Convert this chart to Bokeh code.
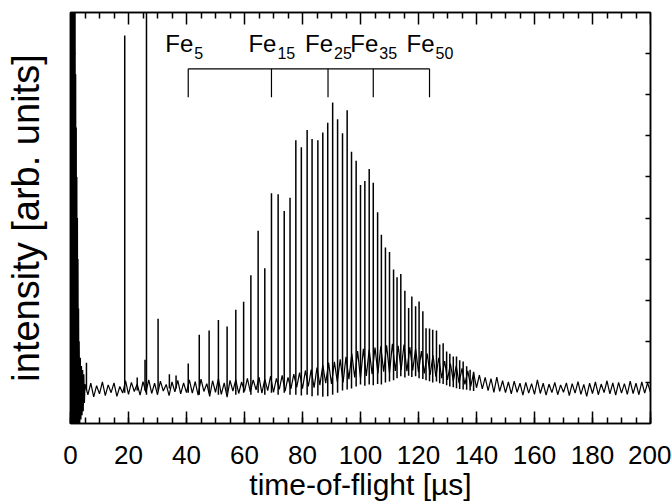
import math
from bokeh.plotting import figure
from bokeh.models import LinearAxis, FixedTicker, SingleIntervalTicker
from bokeh.core.properties import value
from bokeh.embed import file_html
from bokeh.resources import INLINE

# ---------------- data ----------------
# saturated start-of-trace burst (time in µs, intensity arb. units, 0..100 scale)
burst_t = [0.0, 0.1, 0.2, 0.3, 0.4, 0.5, 0.6, 0.7, 0.8, 0.9, 1.0, 1.1, 1.2, 1.3,
           1.4, 1.5, 1.6, 1.7, 1.8, 1.9, 2.0, 2.1, 2.2, 2.3, 2.4, 2.5, 2.6, 2.7,
           2.8, 2.9, 3.0, 3.2, 3.4, 3.6, 3.8, 4.0, 4.2, 4.4, 4.6, 4.8]
burst_v = [105, -5, 105, -5, 105, -5, 105, -5, 105, -5, 105, -5, 105, -5,
           105, -5, 102, -4, 85, -4, 72, -3, 60, -3, 50, -2, 40, -2,
           28, -1, 20, 0, 16, 1, 14, 2, 13, 3, 12, 5]

# noisy baseline, sampled every 1 µs from 5 to 200 µs
baseline_t = list(range(5, 201))
baseline_v = [
    9.6, 7.0, 9.8, 6.5, 9.2, 7.2, 10.1, 6.8, 9.4, 7.5, 9.9, 6.6, 9.0, 7.4,          # 5-18
    10.4, 7.1, 10.0, 7.8, 9.6, 6.9, 10.2, 7.6, 10.6, 7.3, 9.8, 7.0, 10.3, 7.9,      # 19-32
    9.5, 6.8, 10.1, 7.7, 10.5, 7.2, 9.9, 7.5,                                      # 33-40
    10.6, 7.4, 10.2, 6.9, 10.8, 7.8, 9.7, 6.6, 10.4, 7.6,                          # 41-50
    10.9, 7.1, 9.9, 6.4, 10.5, 7.9, 10.7, 7.3, 10.1, 7.8,                          # 51-60
    11.0, 7.7, 10.6, 8.2, 11.3, 7.4, 10.8, 8.0, 11.5, 7.6,                         # 61-70
    11.0, 8.3, 11.7, 7.9, 11.2, 8.4, 12.0, 8.8, 12.4, 8.5,                         # 71-80
    12.9, 9.0, 13.1, 8.7, 13.6, 9.3, 14.2, 9.8, 14.8, 9.6,                         # 81-90
    15.0, 10.2, 15.6, 10.0, 16.2, 10.8, 17.0, 11.2, 17.6, 11.0,                    # 91-100
    18.2, 11.6, 18.0, 12.0, 18.5, 12.2, 18.8, 12.6, 19.0, 12.3,                    # 101-110
    19.4, 12.8, 18.9, 13.0, 19.2, 12.7, 18.6, 12.9, 18.2, 12.5,                    # 111-120
    17.6, 12.2, 17.0, 11.8, 16.6, 11.4, 16.0, 11.0, 15.2, 10.6,                    # 121-130
    14.6, 10.3, 14.0, 9.8, 13.4, 9.5, 12.8, 9.0, 12.3, 8.7,                        # 131-140
    11.8, 8.4, 11.2, 8.0, 10.9, 7.6, 11.3, 7.8, 10.4, 7.5,                         # 141-150
    10.1, 7.2, 10.3, 7.6, 9.8, 6.9, 10.0, 7.4, 9.7, 7.1,                           # 151-160
    10.6, 7.3, 9.8, 6.9, 9.6, 7.5, 10.0, 7.0, 9.4, 7.6,                            # 161-170
    9.9, 6.8, 9.7, 7.4, 10.2, 7.1, 9.5, 6.6, 9.8, 7.3,                             # 171-180
    10.1, 7.0, 9.6, 7.5, 10.4, 7.2, 9.9, 6.9, 10.0, 7.4,                           # 181-190
    9.7, 7.1, 10.3, 7.3, 9.8, 7.0, 10.1, 7.4, 9.9, 7.6,                            # 191-200
]

# mass peaks: position, top, bottom of the undershoot
peak_t = [5.5, 18.7, 23.0, 25.7, 26.2, 30.2, 34.1, 36.4,
          40.6, 44.4, 47.8, 51.0, 54.0, 57.0, 59.7, 62.2, 64.7, 67.0,
          69.3, 71.6, 73.7, 75.7, 77.7, 79.6, 81.6, 83.3, 85.3, 87.0,
          88.7, 90.4, 92.1, 93.8, 95.4, 96.9, 98.5, 100.0, 101.5, 103.0,
          104.4, 105.9, 107.2, 108.6, 110.0, 111.4, 112.6, 113.9, 115.3, 116.6,
          117.7, 119.0, 120.2, 121.5, 122.6, 123.8, 124.9, 126.2, 127.3, 128.5,
          129.7, 130.8, 132.0, 133.1, 134.2, 135.4, 136.6, 137.8, 139.0]
peak_h = [14.8, 94.4, 11.2, 15.5, 110.0, 25.5, 12.0, 11.7,
          14.6, 21.6, 22.6, 25.2, 23.6, 27.7, 29.6, 36.1, 46.9, 37.8,
          56.0, 55.8, 51.7, 54.9, 68.9, 67.2, 71.4, 69.2, 68.9, 70.8,
          73.2, 78.1, 74.0, 70.6, 76.2, 66.1, 63.9, 58.0, 59.0, 61.9,
          58.6, 51.4, 45.9, 42.8, 41.7, 37.5, 35.6, 36.4, 32.3, 28.1,
          30.9, 28.5, 29.7, 27.3, 23.2, 23.1, 22.8, 22.6, 19.2, 19.5,
          17.5, 17.0, 16.3, 16.3, 15.4, 15.1, 13.9, 13.1, 12.6]
peak_low = [8.0, 7.5, 8.0, 8.0, 7.0, 8.0, 8.5, 8.5,
            7.5, 7.0, 7.5, 7.0, 7.5, 7.0, 7.5, 7.0, 7.5, 7.0,
            7.5, 7.0, 7.5, 7.0, 7.0, 6.8, 7.0, 6.6, 6.8, 6.5,
            6.6, 7.0, 7.5, 8.0, 8.3, 8.5, 9.0, 9.5, 9.2, 9.5,
            9.3, 9.6, 9.5, 10.0, 10.2, 10.5, 11.0, 11.5, 11.2, 11.6,
            11.3, 11.5, 11.0, 10.8, 10.5, 10.3, 10.0, 10.2, 9.8, 9.6,
            9.3, 9.0, 8.8, 8.6, 8.4, 8.3, 8.2, 8.0, 7.9]

# cluster size labels
fe_sizes = ["5", "15", "25", "35", "50"]
fe_t = [40.6, 69.3, 88.8, 104.4, 123.8]

# ticks
x_major = [0, 20, 40, 60, 80, 100, 120, 140, 160, 180, 200]
x_minor = [5, 10, 15, 25, 30, 35, 45, 50, 55, 65, 70, 75, 85, 90, 95,
           105, 110, 115, 125, 130, 135, 145, 150, 155, 165, 170, 175,
           185, 190, 195]
y_major = [10, 20, 30, 40, 50, 60, 70, 80, 90]

x_label = "time-of-flight [\u00b5s]"
y_label = "intensity [arb. units]"

# ---------------- figure ----------------
FONT = "Liberation Sans"
p = figure(width=671, height=503, x_range=(0, 200), y_range=(0, 100),
           output_backend="svg", toolbar_location=None,
           min_border_left=70, min_border_right=21, min_border_top=12,
           min_border_bottom=79)
p.background_fill_color = "white"
p.border_fill_color = "white"
p.xgrid.visible = False
p.ygrid.visible = False
p.outline_line_color = "black"
p.outline_line_width = 1.5

trace_t = burst_t + baseline_t
trace_v = burst_v + baseline_v
p.line(trace_t, trace_v, line_color="black", line_width=1.2)
p.segment(x0=peak_t, y0=peak_low, x1=peak_t, y1=peak_h,
          line_color="black", line_width=1.5)

# bracket with Fe_n markers
BR_TOP, BR_BOT = 86.3, 79.4
p.segment(x0=[fe_t[0]], y0=[BR_TOP], x1=[fe_t[-1]], y1=[BR_TOP],
          line_color="black", line_width=1.2)
p.segment(x0=fe_t, y0=[BR_TOP] * len(fe_t), x1=fe_t, y1=[BR_BOT] * len(fe_t),
          line_color="black", line_width=1.2)
p.text(x=fe_t, y=[92.4] * len(fe_t), text=["Fe"] * len(fe_t),
       text_align="right", text_baseline="alphabetic", x_offset=5,
       text_font=value(FONT), text_font_size="24px", text_color="black")
p.text(x=fe_t, y=[90.1] * len(fe_t), text=fe_sizes,
       text_align="left", text_baseline="alphabetic", x_offset=6,
       text_font=value(FONT), text_font_size="16px", text_color="black")

# ---------------- axes ----------------
def line_style(ax, width=1.5):
    ax.axis_line_width = width
    ax.axis_line_color = "black"
    ax.major_tick_line_color = "black"
    ax.minor_tick_line_color = "black"
    ax.major_tick_line_width = width
    ax.minor_tick_line_width = width
    ax.major_tick_out = 0
    ax.minor_tick_out = 0

# bottom: labelled ticks + title
bx = p.xaxis[0]
bx.ticker = SingleIntervalTicker(interval=20, num_minor_ticks=4)
line_style(bx)
bx.major_tick_in = 12
bx.minor_tick_in = 6
bx.major_label_text_font = FONT
bx.major_label_text_font_size = "26px"
bx.major_label_text_color = "black"
bx.major_label_standoff = 22
bx.axis_label = x_label
bx.axis_label_text_font = FONT
bx.axis_label_text_font_size = "30px"
bx.axis_label_text_font_style = "normal"
bx.axis_label_text_color = "black"
bx.axis_label_standoff = 1

# left: ticks only (as minor ticks -> no tick texts) + title
ly = p.yaxis[0]
ly.ticker = FixedTicker(ticks=[], minor_ticks=y_major)
line_style(ly)
ly.minor_tick_in = 5
ly.major_label_standoff = 0
ly.axis_label = y_label
ly.axis_label_text_font = FONT
ly.axis_label_text_font_size = "38px"
ly.axis_label_text_font_style = "normal"
ly.axis_label_text_color = "black"
ly.axis_label_standoff = 24

# right: ticks only
ry = LinearAxis(ticker=FixedTicker(ticks=[], minor_ticks=y_major))
line_style(ry)
ry.minor_tick_in = 5
ry.major_label_standoff = 0
p.add_layout(ry, "right")

# top: minor ticks via axis, longer major ticks as screen-length rays
tx = LinearAxis(ticker=FixedTicker(ticks=[], minor_ticks=x_minor))
line_style(tx)
tx.minor_tick_in = 6
tx.major_label_standoff = 0
p.add_layout(tx, "above")
p.ray(x=x_major, y=[100] * len(x_major), length=12, length_units="screen",
      angle=-math.pi / 2, line_color="black", line_width=1.5)

open("out.html", "w").write(file_html(p, INLINE))
